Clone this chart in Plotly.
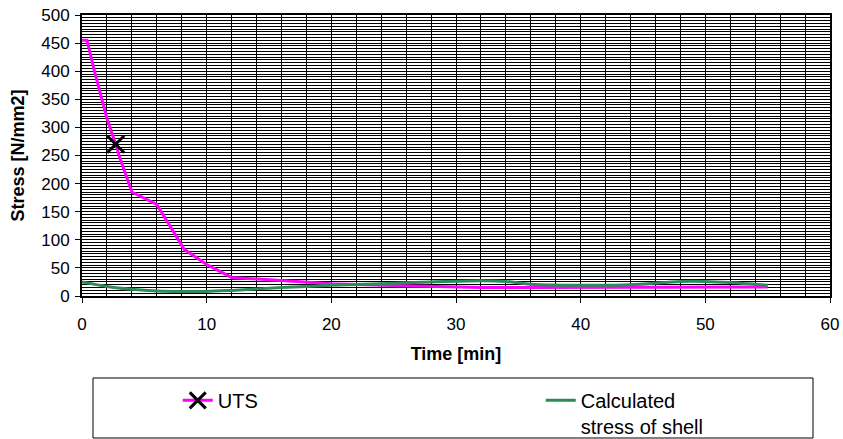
import plotly.graph_objects as go

# UTS curve (magenta line)
uts_time = [0, 0.4, 1, 2, 2.7, 3, 4, 6, 8.2, 10, 12, 16, 20, 24, 28, 32, 36, 40, 44, 48, 52, 55]
uts_stress = [455, 455, 400, 316, 270, 248, 185, 163, 83, 56, 33, 27, 22, 19, 17, 15, 15, 15, 15, 16, 16, 16]

# UTS marked point (black X)
uts_mark_time = [2.7]
uts_mark_stress = [270]

# Calculated stress of shell (green line)
shell_time = [0, 2, 4, 6, 8, 10, 12, 16, 20, 24, 28, 32, 34, 36, 40, 44, 48, 50, 52, 55]
shell_stress = [25, 17, 12, 9, 8, 8, 10, 15, 19, 22, 25, 27, 26, 21, 19, 20, 26, 26, 24, 19]

FONT = "Liberation Sans, Arial, sans-serif"

fig = go.Figure()
fig.add_trace(go.Scatter(
    x=uts_time, y=uts_stress, mode="lines",
    line=dict(color="#ff00ff", width=3),
    showlegend=False, hoverinfo="skip"))
fig.add_trace(go.Scatter(
    x=shell_time, y=shell_stress, mode="lines", name="Calculated<br>stress of shell",
    line=dict(color="#2e8b57", width=3, shape="spline", smoothing=0.8),
    legendrank=2))
fig.add_trace(go.Scatter(
    x=uts_mark_time, y=uts_mark_stress, mode="lines+markers", name="UTS",
    line=dict(color="#ff00ff", width=3),
    marker=dict(symbol="x-thin", size=17, color="black",
                line=dict(color="black", width=3)),
    legendrank=1))

axis_common = dict(
    ticks="outside", ticklen=5, tickwidth=1, tickcolor="black",
    showline=True, linewidth=2, linecolor="black", mirror=True,
    showgrid=True, gridcolor="black", gridwidth=1, zeroline=False,
    tickfont=dict(family=FONT, size=17, color="black"),
)

fig.update_xaxes(
    range=[0, 60], dtick=10, tick0=0,
    minor=dict(dtick=2, showgrid=True, gridcolor="black", gridwidth=1, ticks=""),
    title=dict(text="Time [min]", font=dict(family=FONT, size=18, color="black", weight="bold"),
               standoff=14),
    ticklabelstandoff=7,
    **axis_common)
fig.update_yaxes(
    range=[0, 500], dtick=50, tick0=0,
    minor=dict(dtick=5, showgrid=True, gridcolor="black", gridwidth=1, ticks=""),
    title=dict(text="Stress [N/mm2]", font=dict(family=FONT, size=18, color="black", weight="bold"),
               standoff=12),
    ticklabelstandoff=2,
    **axis_common)

# legend frame
fig.add_shape(type="rect", xref="paper", yref="paper",
              x0=(93 - 82) / 748, x1=(813 - 82) / 748,
              y0=(296 - 378) / 281, y1=(296 - 438) / 281,
              line=dict(color="black", width=1), fillcolor="rgba(0,0,0,0)")

fig.update_layout(
    width=843, height=439,
    margin=dict(l=82, r=13, t=15, b=143, autoexpand=False),
    paper_bgcolor="white", plot_bgcolor="white",
    font=dict(family=FONT, color="black"),
    legend=dict(orientation="h", x=0.128, xanchor="left", y=-0.302, yanchor="top",
                valign="top", bgcolor="rgba(0,0,0,0)", borderwidth=0,
                entrywidth=318, entrywidthmode="pixels",
                font=dict(family=FONT, size=20, color="black"),
                traceorder="normal"),
)

fig.write_html("out.html")
